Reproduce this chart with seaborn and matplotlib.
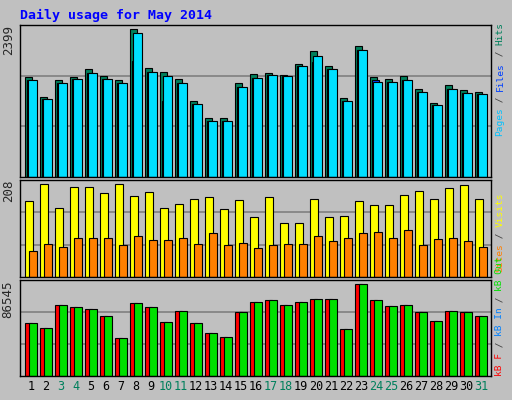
import numpy as np
import matplotlib
matplotlib.use('Agg')
import matplotlib.pyplot as plt
import seaborn as sns

days = list(range(1, 32))
weekend = [3, 4, 10, 11, 17, 18, 24, 25, 31]

hits = [1617, 1302, 1568, 1617, 1747, 1633, 1568, 2399, 1764, 1699, 1585, 1227, 966, 966,
        1520, 1667, 1682, 1650, 1829, 2041, 1797, 1281, 2122, 1617, 1585, 1633, 1422, 1210,
        1487, 1406, 1373]
files = [1568, 1270, 1520, 1585, 1682, 1585, 1520, 2334, 1699, 1633, 1520, 1178, 917, 917,
         1455, 1601, 1650, 1633, 1797, 1959, 1747, 1227, 2057, 1536, 1536, 1568, 1373, 1162,
         1422, 1357, 1341]
pages = [1568, 1270, 1520, 1585, 1682, 1585, 1520, 1883, 1699, 1227, 1520, 1178, 917, 917,
         1455, 1601, 1650, 1633, 1797, 1862, 1747, 1227, 2057, 1568, 1536, 1568, 1373, 1162,
         1422, 1357, 1341]
visits = [170, 208, 156, 201, 203, 188, 208, 181, 190, 154, 163, 174, 179, 152, 172, 134,
          179, 122, 122, 174, 134, 138, 170, 161, 161, 185, 192, 174, 199, 206, 176]
sites = [59, 75, 68, 88, 88, 88, 71, 91, 82, 82, 88, 75, 98, 71, 77, 64, 71, 73, 73, 91,
         80, 88, 98, 100, 88, 106, 71, 86, 88, 80, 68]
kbytes = [50222, 45484, 67278, 65383, 63488, 56855, 36007, 68226, 65383, 51170, 61593,
          50222, 40745, 36955, 60645, 69173, 71069, 67278, 69173, 72016, 72016, 44536,
          86545, 71069, 66330, 67278, 60645, 52118, 61593, 60645, 56855]

sns.set_style('white')
plt.rcParams['font.family'] = ['DejaVu Sans Mono']

BG = '#c0c0c0'
fig = plt.figure(figsize=(5.12, 4.0), dpi=100)
fig.patch.set_facecolor(BG)

W, H = 512, 400
def panel(top, bottom):
    return fig.add_axes([20 / W, 1 - bottom / H, 471 / W, (bottom - top) / H])

x = np.arange(31)
ax1 = panel(25, 177)
ax2 = panel(180, 277)
ax3 = panel(280, 376)

ax1.bar(x + 0.33, hits, width=0.5, align='edge', color='#00805c', edgecolor='black', lw=0.8)
ax1.bar(x + 0.45, pages, width=0.5, align='edge', color='#0040ff', edgecolor='black', lw=0.8)
ax1.bar(x + 0.53, files, width=0.6, align='edge', color='#00e0ff', edgecolor='black', lw=0.8)
ax1.set_ylim(0, max(hits) * 455 / 442)

ax2.bar(x + 0.33, visits, width=0.53, align='edge', color='#ffff00', edgecolor='black', lw=0.8)
ax2.bar(x + 0.6, sites, width=0.5, align='edge', color='#ff8000', edgecolor='black', lw=0.8)
ax2.set_ylim(0, max(visits) * 290 / 277)

ax3.bar(x + 0.33, kbytes, width=0.5, align='edge', color='#ff0000', edgecolor='black', lw=0.8)
ax3.bar(x + 0.6, kbytes, width=0.5, align='edge', color='#00e000', edgecolor='black', lw=0.8)
ax3.set_ylim(0, max(kbytes) * 286 / 274)

for ax, top in [(ax1, max(hits)), (ax2, max(visits)), (ax3, max(kbytes))]:
    ax.set_facecolor(BG)
    ax.set_xlim(0, 31.4)
    lo, hi = ax.get_ylim()
    for f in (1 / 3, 2 / 3):
        ax.axhline(hi * f, color='#808080', lw=1.2, zorder=0)
    ax.set_xticks([])
    ax.set_yticks([])
    for s in ax.spines.values():
        s.set_color('black')
        s.set_linewidth(1)
    ax.text(-0.025, 1.0, str(top), transform=ax.transAxes, rotation=90,
            ha='center', va='top', fontsize=9)

for d, xi in zip(days, x):
    col = '#00805c' if d in weekend else 'black'
    ax3.text(xi + 0.72, -0.04, str(d), transform=ax3.get_xaxis_transform(),
             ha='center', va='top', fontsize=8.5, color=col)

fig.text(20 / W, 1 - 15 / H, 'Daily usage for May 2014', color='#0000ff',
         fontsize=9.5, fontweight='bold', va='center', ha='left')

FS = 6.8
ADV = FS * 100 / 72 * 0.602  # monospace advance in pixels

def side_label(parts, y_bottom):
    y = y_bottom
    for txt, col in parts:
        fig.text(500 / W, 1 - y / H, txt, rotation=90, color=col, fontsize=FS,
                 ha='center', va='bottom')
        y -= len(txt) * ADV

side_label([('Pages', '#00c0ff'), (' / ', '#404040'), ('Files', '#0040ff'),
            (' / ', '#404040'), ('Hits', '#00805c')], 136)
side_label([('Sites', '#ff8000'), (' / ', '#404040'), ('Visits', '#ffff00')], 272)
side_label([('kB F', '#ff0000'), (' / ', '#404040'), ('kB In', '#0080ff'),
            (' / ', '#404040'), ('kB Out', '#00e000')], 376)

fig.savefig('out.png', dpi=100, facecolor=BG)
